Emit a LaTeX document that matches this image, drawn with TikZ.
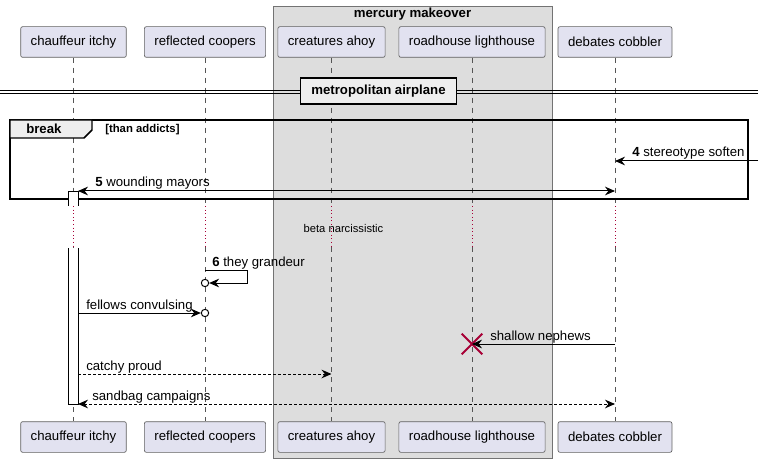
\documentclass[tikz,border=0pt]{standalone}
\usepackage{fontspec}
\setmainfont{Liberation Sans}
\usetikzlibrary{arrows.meta,shapes.misc}
\definecolor{partfill}{HTML}{E2E2F0}
\definecolor{boxgray}{HTML}{DDDDDD}
\definecolor{tabgray}{HTML}{EEEEEE}
\definecolor{lifegray}{HTML}{555555}
\definecolor{killred}{HTML}{A80036}
\begin{document}
\begin{tikzpicture}[x=0.75pt,y=-0.75pt,
  >={Stealth[length=7.5pt,width=6.5pt,inset=2.5pt]},
  part/.style={draw=gray!75!black,line width=0.5pt,fill=partfill,rounded corners=1.5pt,minimum height=23pt,inner xsep=7.5pt,font=\fontsize{9.9}{11}\selectfont},
  life/.style={draw=lifegray,line width=0.5pt,dash pattern=on 3.75pt off 3.75pt},
  pause/.style={draw=killred,line width=0.7pt,dash pattern=on 0.7pt off 2pt},
  msg/.style={line width=0.75pt},
  reply/.style={msg,dash pattern=on 2.25pt off 1.5pt},
  lbl/.style={anchor=base west,inner sep=0pt,font=\fontsize{9.9}{11}\selectfont},
  ring/.style={circle,draw,line width=0.75pt,fill=white,minimum size=5.5pt,inner sep=0pt},
  frame/.style={line width=1.1pt}]
\useasboundingbox (0,0) rectangle (763,463);
\draw[draw=gray!90!black,fill=boxgray,line width=0.6pt] (273,6) rectangle (552,458);
\node[font=\bfseries\fontsize{9.9}{11}\selectfont] at (412.5,14) {mercury makeover};
\node[part] (ci) at (73.5,42) {chauffeur itchy};
\node[part] (rc) at (205,42) {reflected coopers};
\node[part] (ca) at (331.5,42) {creatures ahoy};
\node[part] (rl) at (472,42) {roadhouse lighthouse};
\node[part] (dc) at (615,42) {debates cobbler};
\node[part] (cib) at (73.5,437) {chauffeur itchy};
\node[part] (rcb) at (205,437) {reflected coopers};
\node[part] (cab) at (331.5,437) {creatures ahoy};
\node[part] (rlb) at (472,437) {roadhouse lighthouse};
\node[part] (dcb) at (615,437) {debates cobbler};
\coordinate (d1) at (0,206);
\coordinate (d2) at (0,247);
\foreach \p in {ci,rc,ca,rl,dc}{
  \draw[life] (\p.south) -- (\p |- d1);
  \draw[pause] (\p |- d1) -- (\p |- d2);
  \draw[life] (\p |- d2) -- (\p b.north);
}
\draw[line width=0.9pt] (0,90.5) -- (758,90.5);
\draw[line width=0.9pt] (0,93.5) -- (758,93.5);
\node[draw,fill=tabgray,line width=1.4pt,minimum width=117pt,minimum height=19pt,font=\bfseries\fontsize{9.9}{11}\selectfont] (div) at (378.5,91) {metropolitan airplane};
\draw[frame] (10,120) rectangle (748,199);
\draw[frame,fill=tabgray] (10,120) -- (92,120) -- (92,130) -- (84,138) -- (10,138) -- cycle;
\node[lbl,font=\bfseries\fontsize{9.9}{11}\selectfont] at (26,134) {break};
\node[lbl,font=\bfseries\fontsize{8.5}{9}\selectfont] at (105,133) {[than addicts]};
\coordinate (act) at (78,0);
\draw[line width=0.6pt,fill=white] (68,206) -- (68,191) -- (78,191) -- (78,206);
\draw[line width=0.6pt,fill=white] (68,248) -- (68,404) -- (78,404) -- (78,248);
\coordinate (r4) at (758,161);
\coordinate (r5) at (0,191);
\coordinate (r6) at (0,270);
\coordinate (r7) at (0,313);
\coordinate (r8) at (0,344);
\coordinate (r9) at (0,374);
\coordinate (r10) at (0,404);
\draw[msg,->] (r4) -- (dc |- r4);
\node[lbl] at (632,157) {\textbf{4} stereotype soften};
\draw[msg,<->] (act |- r5) -- (dc |- r5);
\node[lbl] at (95,187) {\textbf{5} wounding mayors};
\node[font=\fontsize{8.4}{9}\selectfont] at (343.5,228) {beta narcissistic};
\node[ring] (c6) at (205,283) {};
\draw[msg,->] (rc |- r6) -- ++(42,0) |- (c6.east);
\node[lbl] at (212,266) {\textbf{6} they grandeur};
\node[ring] (c7) at (rc |- r7) {};
\draw[msg,->] (act |- r7) -- (c7.west);
\node[lbl] at (86,309) {fellows convulsing};
\node[cross out,draw=killred,line width=1.5pt,minimum size=14pt,inner sep=0pt] (x8) at (rl |- r8) {};
\draw[msg,->] (dc |- r8) -- (x8.center);
\node[lbl] at (490,340) {shallow nephews};
\draw[reply,->] (act |- r9) -- (ca |- r9);
\node[lbl] at (86,370) {catchy proud};
\draw[reply,<->] (act |- r10) -- (dc |- r10);
\node[lbl] at (92,400) {sandbag campaigns};
\end{tikzpicture}
\end{document}
